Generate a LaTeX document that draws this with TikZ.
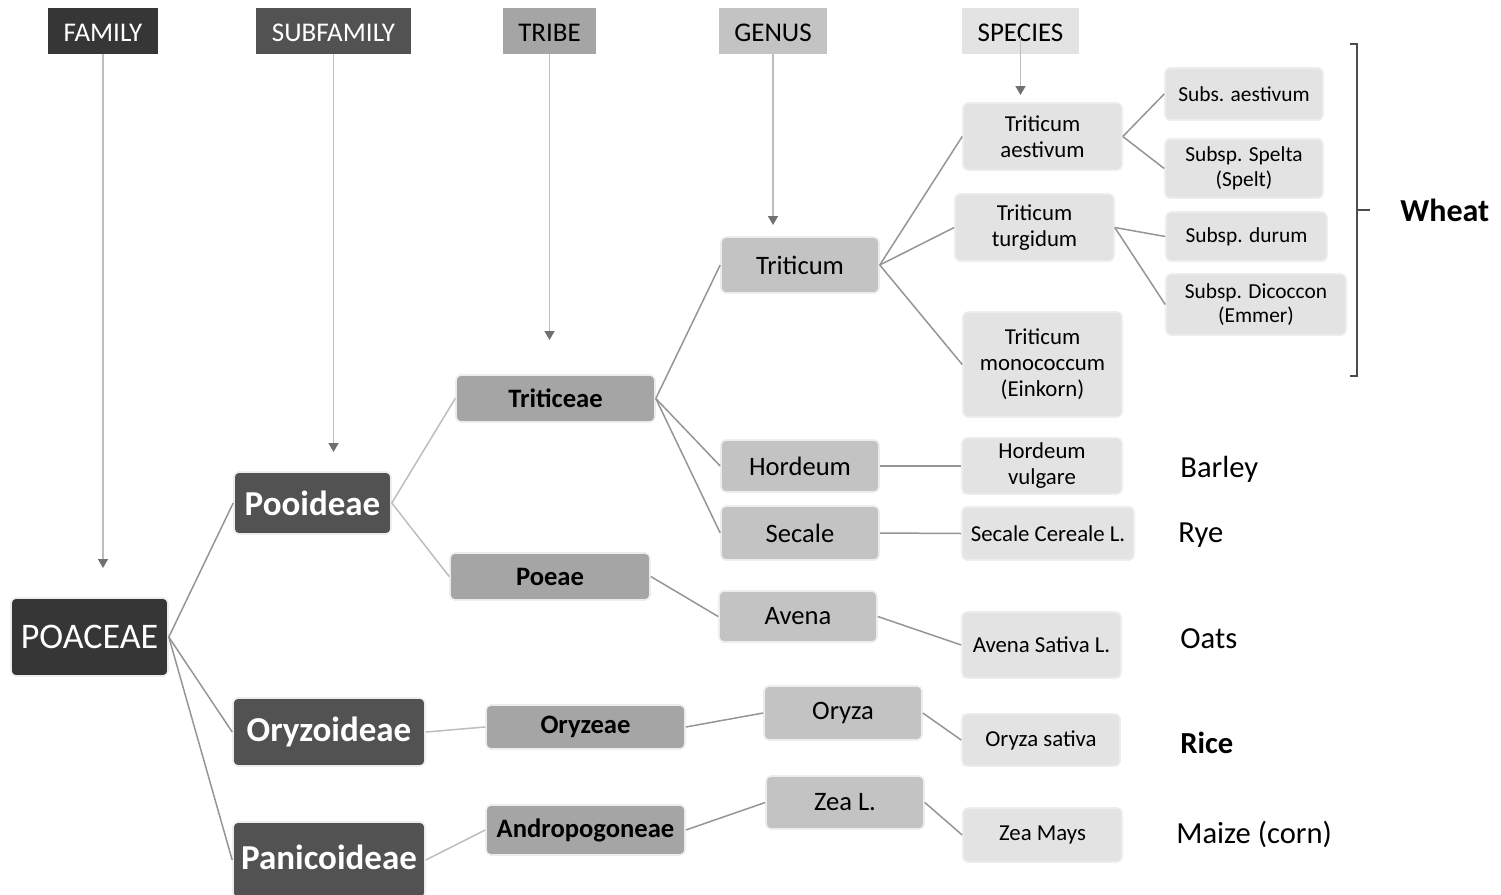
\documentclass[tikz,border=0pt]{standalone}
\usepackage{fontspec}
\setmainfont{Carlito}
\usetikzlibrary{arrows.meta}

\definecolor{famgray}{HTML}{363636}
\definecolor{subgray}{HTML}{525252}
\definecolor{tribegray}{HTML}{A5A5A5}
\definecolor{genusgray}{HTML}{C3C3C3}
\definecolor{specgray}{HTML}{E3E3E3}
\definecolor{linkgray}{HTML}{959595}
\definecolor{lightgray}{HTML}{BDBDBD}
\definecolor{tipgray}{HTML}{707070}

\begin{document}
\begin{tikzpicture}[x=0.5pt, y=-0.5pt,
    headbox/.style={inner sep=0pt, align=center, minimum height=23pt, text height=10.7pt, text depth=0pt, font=\fontsize{13.5}{15}\selectfont},
    box/.style={rounded corners=2.5pt, draw=black!7, line width=0.8pt, inner sep=0pt, align=center},
    famnode/.style={box, fill=famgray, text=white, font=\fontsize{18}{21}\selectfont},
    subnode/.style={box, fill=subgray, text=white, font=\bfseries\fontsize{17.5}{20}\selectfont},
    tribenode/.style={box, fill=tribegray, font=\bfseries\fontsize{13.3}{15}\selectfont},
    genusnode/.style={box, fill=genusgray, font=\fontsize{13.3}{15}\selectfont},
    specnode/.style={box, fill=specgray, font=\fontsize{11.4}{13}\selectfont},
    sspnode/.style={box, fill=specgray, font=\fontsize{10.7}{12.4}\selectfont},
    crop/.style={anchor=west, inner sep=0pt, font=\fontsize{15.3}{18}\selectfont},
    hdarrow/.style={draw=lightgray, line width=0.75pt, -{Triangle[length=4.5pt, width=5pt, color=tipgray]}},
    link/.style={draw=linkgray, line width=0.75pt},
    lightlink/.style={draw=lightgray, line width=0.75pt}]
    \useasboundingbox (0,0) rectangle (1501,895);

    % headers
    \node[headbox, fill=famgray, text=white, minimum width=55pt] (family) at (103,31) {FAMILY};
    \node[headbox, fill=subgray, text=white, minimum width=77.5pt] (subfamily) at (333.5,31) {SUBFAMILY};
    \node[headbox, fill=tribegray, minimum width=46.5pt] (tribe) at (549.5,31) {TRIBE};
    \node[headbox, fill=genusgray, minimum width=54pt] (genus) at (773,31) {GENUS};
    \node[headbox, fill=specgray, minimum width=58.5pt] (species) at (1020.5,31) {SPECIES};

    % family and subfamilies
    \node[famnode, minimum width=78.5pt, minimum height=39pt] (poaceae) at (89.5,637) {POACEAE};
    \node[subnode, minimum width=78.5pt, minimum height=31pt] (pooideae) at (312.5,503) {Pooideae};
    \node[subnode, minimum width=96pt, minimum height=34pt] (oryzoideae) at (329,732) {Oryzoideae};
    \node[subnode, minimum width=96pt, minimum height=38pt] (panicoideae) at (329,860) {};
    \node[font=\bfseries\fontsize{17.5}{20}\selectfont, text=white, inner sep=0pt] (panicoideaetext) at (329,857) {Panicoideae};

    % tribes
    \node[tribenode, minimum width=99.5pt, minimum height=23.5pt] (triticeae) at (555.5,398.5) {Triticeae};
    \node[tribenode, minimum width=100pt, minimum height=23.5pt] (poeae) at (550,576.5) {Poeae};
    \node[tribenode, minimum width=99.5pt, minimum height=22pt] (oryzeae) at (585.5,727) {Oryzeae};
    \node[tribenode, minimum width=99.5pt, minimum height=25pt] (andropogoneae) at (585.5,830) {Andropogoneae};

    % genera
    \node[genusnode, minimum width=79pt, minimum height=28pt] (triticum) at (800,265) {Triticum};
    \node[genusnode, minimum width=79pt, minimum height=26pt] (hordeum) at (800,466) {Hordeum};
    \node[genusnode, minimum width=79pt, minimum height=27pt] (secale) at (800,533) {Secale};
    \node[genusnode, minimum width=79pt, minimum height=25.5pt] (avena) at (798,616.5) {Avena};
    \node[genusnode, minimum width=79pt, minimum height=27pt] (oryza) at (843,713) {Oryza};
    \node[genusnode, minimum width=79pt, minimum height=26.5pt] (zea) at (845,802.5) {Zea L.};

    % species
    \node[specnode, minimum width=79.5pt, minimum height=33.5pt] (aestivum) at (1042.5,136.5) {Triticum\\aestivum};
    \node[specnode, minimum width=79.5pt, minimum height=33.5pt] (turgidum) at (1034.5,227.5) {Triticum\\turgidum};
    \node[specnode, minimum width=79.5pt, minimum height=52.5pt] (monococcum) at (1042.5,364.5) {Triticum\\monococcum\\(Einkorn)};
    \node[specnode, minimum width=80pt, minimum height=28pt] (vulgare) at (1042,466) {Hordeum\\vulgare};
    \node[specnode, minimum width=86pt, minimum height=26.5pt] (cereale) at (1048,533.5) {Secale Cereale L.};
    \node[specnode, minimum width=79.5pt, minimum height=33pt] (sativa) at (1041.5,645) {Avena Sativa L.};
    \node[specnode, minimum width=79pt, minimum height=26pt] (oryzasativa) at (1041,740) {Oryza sativa};
    \node[specnode, minimum width=79.5pt, minimum height=27pt] (mays) at (1042.5,835) {Zea Mays};

    % subspecies
    \node[sspnode, minimum width=79pt, minimum height=26pt] (subsaest) at (1244,94) {Subs. aestivum};
    \node[sspnode, minimum width=79pt, minimum height=29.5pt] (spelta) at (1244,168.5) {Subsp. Spelta\\(Spelt)};
    \node[sspnode, minimum width=80.5pt, minimum height=24.5pt] (durum) at (1246.5,236.5) {Subsp. durum};
    \node[sspnode, minimum width=90pt, minimum height=30.5pt] (dicoccon) at (1256,304.5) {Subsp. Dicoccon\\(Emmer)};

    % common names
    \node[crop, font=\bfseries\fontsize{16}{19}\selectfont] (wheat) at (1400,210) {Wheat};
    \node[crop] (barley) at (1180,469) {Barley};
    \node[crop] (rye) at (1178,535) {Rye};
    \node[crop] (oats) at (1180,639) {Oats};
    \node[crop, font=\bfseries\fontsize{15.3}{18}\selectfont] (rice) at (1180,743) {Rice};
    \node[crop] (maize) at (1176,834) {Maize (corn)};

    % header arrows
    \foreach \h/\y in {family/568, subfamily/452, tribe/340, genus/225}
    {
        \coordinate (\h tip) at (\h.south |- 0,\y);
        \draw[hdarrow] (\h.south) -- (\h tip);
    }
    \coordinate (speciestip) at (species.south |- 0,95);
    \draw[hdarrow] ([yshift=-3pt]species.center) -- (speciestip);

    % links
    \foreach \a/\b in {poaceae/pooideae, poaceae/oryzoideae, poaceae/panicoideae,
        triticeae/triticum, triticeae/hordeum, triticeae/secale, poeae/avena, oryzeae/oryza,
        andropogoneae/zea, triticum/aestivum, triticum/turgidum, triticum/monococcum,
        hordeum/vulgare, secale/cereale, avena/sativa, oryza/oryzasativa, zea/mays,
        aestivum/subsaest, aestivum/spelta, turgidum/durum, turgidum/dicoccon}
    \draw[link] (\a.east) -- (\b.west);
    \foreach \a/\b in {pooideae/triticeae, pooideae/poeae, oryzoideae/oryzeae, panicoideae/andropogoneae}
    \draw[lightlink] (\a.east) -- (\b.west);

    % wheat bracket
    \draw[black!70, line width=0.6pt] (1350,44) -- (1357,44) -- (1357,376) -- (1350,376);
    \draw[black!70, line width=0.6pt] (1357,210) -- (1370,210);
\end{tikzpicture}
\end{document}
